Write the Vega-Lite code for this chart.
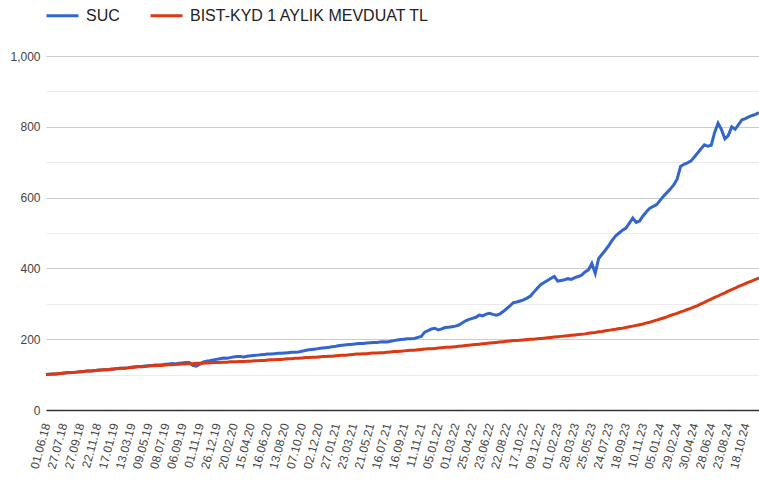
{
 "$schema": "https://vega.github.io/schema/vega-lite/v6.json",
 "width": 713,
 "height": 354,
 "autosize": "none",
 "padding": {"left": 46, "top": 56, "right": 0, "bottom": 71},
 "background": "white",
 "config": {"view": {"stroke": null}, "font": "Liberation Sans"},
 "data": {"values": [
  {"d":"01.06.18","SUC":100,"BIST":100},{"d":"12.06.18","SUC":101,"BIST":101},{"d":"22.06.18","SUC":102,"BIST":102},{"d":"04.07.18","SUC":102,"BIST":102},{"d":"16.07.18","SUC":103,"BIST":103},
  {"d":"27.07.18","SUC":104,"BIST":104},{"d":"08.08.18","SUC":105,"BIST":105},{"d":"17.08.18","SUC":105,"BIST":106},{"d":"05.09.18","SUC":106,"BIST":106},{"d":"17.09.18","SUC":107,"BIST":107},
  {"d":"27.09.18","SUC":108,"BIST":108},{"d":"08.10.18","SUC":109,"BIST":109},{"d":"18.10.18","SUC":110,"BIST":110},{"d":"31.10.18","SUC":110,"BIST":110},{"d":"12.11.18","SUC":111,"BIST":111},
  {"d":"22.11.18","SUC":112,"BIST":112},{"d":"04.12.18","SUC":113,"BIST":113},{"d":"14.12.18","SUC":114,"BIST":114},{"d":"26.12.18","SUC":114,"BIST":114},{"d":"07.01.19","SUC":115,"BIST":115},
  {"d":"17.01.19","SUC":116,"BIST":116},{"d":"29.01.19","SUC":117,"BIST":117},{"d":"08.02.19","SUC":118,"BIST":118},{"d":"20.02.19","SUC":118,"BIST":118},{"d":"01.03.19","SUC":119,"BIST":119},
  {"d":"13.03.19","SUC":121,"BIST":120},{"d":"25.03.19","SUC":122,"BIST":121},{"d":"04.04.19","SUC":123,"BIST":122},{"d":"16.04.19","SUC":123,"BIST":122},{"d":"26.04.19","SUC":124,"BIST":123},
  {"d":"09.05.19","SUC":125,"BIST":124},{"d":"21.05.19","SUC":126,"BIST":125},{"d":"31.05.19","SUC":127,"BIST":125},{"d":"14.06.19","SUC":127,"BIST":126},{"d":"26.06.19","SUC":128,"BIST":126},
  {"d":"08.07.19","SUC":129,"BIST":127},{"d":"18.07.19","SUC":130,"BIST":128},{"d":"30.07.19","SUC":131,"BIST":128},{"d":"09.08.19","SUC":130,"BIST":129},{"d":"26.08.19","SUC":132,"BIST":129},
  {"d":"06.09.19","SUC":133,"BIST":130},{"d":"18.09.19","SUC":134,"BIST":130},{"d":"30.09.19","SUC":134,"BIST":131},{"d":"10.10.19","SUC":126,"BIST":131},{"d":"22.10.19","SUC":124,"BIST":132},
  {"d":"01.11.19","SUC":129,"BIST":132},{"d":"13.11.19","SUC":135,"BIST":132},{"d":"25.11.19","SUC":138,"BIST":133},{"d":"05.12.19","SUC":139,"BIST":133},{"d":"16.12.19","SUC":141,"BIST":134},
  {"d":"26.12.19","SUC":143,"BIST":134},{"d":"07.01.20","SUC":145,"BIST":134},{"d":"17.01.20","SUC":147,"BIST":135},{"d":"29.01.20","SUC":146,"BIST":135},{"d":"10.02.20","SUC":148,"BIST":136},
  {"d":"20.02.20","SUC":150,"BIST":136},{"d":"03.03.20","SUC":151,"BIST":136},{"d":"13.03.20","SUC":151,"BIST":137},{"d":"25.03.20","SUC":150,"BIST":137},{"d":"06.04.20","SUC":152,"BIST":138},
  {"d":"15.04.20","SUC":153,"BIST":138},{"d":"27.04.20","SUC":154,"BIST":139},{"d":"08.05.20","SUC":155,"BIST":139},{"d":"21.05.20","SUC":156,"BIST":140},{"d":"04.06.20","SUC":157,"BIST":140},
  {"d":"16.06.20","SUC":158,"BIST":141},{"d":"26.06.20","SUC":158,"BIST":142},{"d":"08.07.20","SUC":159,"BIST":142},{"d":"20.07.20","SUC":160,"BIST":143},{"d":"03.08.20","SUC":160,"BIST":143},
  {"d":"13.08.20","SUC":161,"BIST":144},{"d":"25.08.20","SUC":162,"BIST":145},{"d":"04.09.20","SUC":163,"BIST":145},{"d":"16.09.20","SUC":163,"BIST":146},{"d":"28.09.20","SUC":164,"BIST":146},
  {"d":"07.10.20","SUC":166,"BIST":147},{"d":"19.10.20","SUC":168,"BIST":148},{"d":"30.10.20","SUC":170,"BIST":148},{"d":"11.11.20","SUC":171,"BIST":149},{"d":"23.11.20","SUC":172,"BIST":149},
  {"d":"02.12.20","SUC":174,"BIST":150},{"d":"14.12.20","SUC":175,"BIST":151},{"d":"24.12.20","SUC":176,"BIST":151},{"d":"05.01.21","SUC":177,"BIST":152},{"d":"15.01.21","SUC":179,"BIST":152},
  {"d":"27.01.21","SUC":180,"BIST":153},{"d":"08.02.21","SUC":182,"BIST":154},{"d":"18.02.21","SUC":183,"BIST":155},{"d":"02.03.21","SUC":184,"BIST":155},{"d":"12.03.21","SUC":185,"BIST":156},
  {"d":"23.03.21","SUC":186,"BIST":157},{"d":"02.04.21","SUC":187,"BIST":158},{"d":"14.04.21","SUC":188,"BIST":158},{"d":"26.04.21","SUC":188,"BIST":159},{"d":"07.05.21","SUC":189,"BIST":159},
  {"d":"21.05.21","SUC":190,"BIST":160},{"d":"02.06.21","SUC":191,"BIST":161},{"d":"14.06.21","SUC":191,"BIST":161},{"d":"24.06.21","SUC":192,"BIST":162},{"d":"06.07.21","SUC":193,"BIST":162},
  {"d":"16.07.21","SUC":192,"BIST":163},{"d":"30.07.21","SUC":194,"BIST":164},{"d":"11.08.21","SUC":196,"BIST":165},{"d":"23.08.21","SUC":198,"BIST":165},{"d":"03.09.21","SUC":199,"BIST":166},
  {"d":"16.09.21","SUC":200,"BIST":167},{"d":"28.09.21","SUC":201,"BIST":168},{"d":"08.10.21","SUC":201,"BIST":169},{"d":"20.10.21","SUC":202,"BIST":169},{"d":"01.11.21","SUC":205,"BIST":170},
  {"d":"11.11.21","SUC":208,"BIST":171},{"d":"23.11.21","SUC":220,"BIST":172},{"d":"03.12.21","SUC":224,"BIST":173},{"d":"15.12.21","SUC":229,"BIST":173},{"d":"24.12.21","SUC":231,"BIST":174},
  {"d":"05.01.22","SUC":226,"BIST":175},{"d":"17.01.22","SUC":229,"BIST":176},{"d":"27.01.22","SUC":233,"BIST":177},{"d":"08.02.22","SUC":234,"BIST":177},{"d":"18.02.22","SUC":235,"BIST":178},
  {"d":"01.03.22","SUC":237,"BIST":179},{"d":"11.03.22","SUC":240,"BIST":180},{"d":"23.03.22","SUC":246,"BIST":181},{"d":"04.04.22","SUC":252,"BIST":182},{"d":"14.04.22","SUC":256,"BIST":183},
  {"d":"25.04.22","SUC":259,"BIST":184},{"d":"06.05.22","SUC":262,"BIST":185},{"d":"18.05.22","SUC":268,"BIST":186},{"d":"31.05.22","SUC":266,"BIST":187},{"d":"13.06.22","SUC":271,"BIST":188},
  {"d":"23.06.22","SUC":273,"BIST":189},{"d":"05.07.22","SUC":270,"BIST":190},{"d":"20.07.22","SUC":268,"BIST":191},{"d":"01.08.22","SUC":271,"BIST":192},{"d":"11.08.22","SUC":278,"BIST":193},
  {"d":"22.08.22","SUC":286,"BIST":194},{"d":"02.09.22","SUC":294,"BIST":195},{"d":"14.09.22","SUC":303,"BIST":196},{"d":"26.09.22","SUC":305,"BIST":196},{"d":"06.10.22","SUC":308,"BIST":197},
  {"d":"17.10.22","SUC":311,"BIST":198},{"d":"27.10.22","SUC":316,"BIST":199},{"d":"08.11.22","SUC":322,"BIST":200},{"d":"18.11.22","SUC":333,"BIST":200},{"d":"30.11.22","SUC":344,"BIST":201},
  {"d":"09.12.22","SUC":354,"BIST":202},{"d":"21.12.22","SUC":360,"BIST":203},{"d":"30.12.22","SUC":366,"BIST":204},{"d":"11.01.23","SUC":372,"BIST":205},{"d":"23.01.23","SUC":377,"BIST":206},
  {"d":"01.02.23","SUC":364,"BIST":207},{"d":"13.02.23","SUC":366,"BIST":208},{"d":"23.02.23","SUC":368,"BIST":209},{"d":"07.03.23","SUC":371,"BIST":210},{"d":"17.03.23","SUC":369,"BIST":211},
  {"d":"28.03.23","SUC":374,"BIST":212},{"d":"07.04.23","SUC":377,"BIST":213},{"d":"19.04.23","SUC":381,"BIST":214},{"d":"03.05.23","SUC":390,"BIST":215},{"d":"15.05.23","SUC":396,"BIST":217},
  {"d":"25.05.23","SUC":414,"BIST":218},{"d":"06.06.23","SUC":386,"BIST":219},{"d":"16.06.23","SUC":428,"BIST":221},{"d":"03.07.23","SUC":440,"BIST":222},{"d":"13.07.23","SUC":452,"BIST":224},
  {"d":"24.07.23","SUC":465,"BIST":225},{"d":"03.08.23","SUC":480,"BIST":227},{"d":"15.08.23","SUC":492,"BIST":228},{"d":"25.08.23","SUC":500,"BIST":230},{"d":"06.09.23","SUC":508,"BIST":231},
  {"d":"18.09.23","SUC":514,"BIST":233},{"d":"28.09.23","SUC":528,"BIST":235},{"d":"10.10.23","SUC":542,"BIST":237},{"d":"20.10.23","SUC":530,"BIST":239},{"d":"01.11.23","SUC":534,"BIST":241},
  {"d":"10.11.23","SUC":548,"BIST":243},{"d":"22.11.23","SUC":560,"BIST":246},{"d":"04.12.23","SUC":570,"BIST":248},{"d":"14.12.23","SUC":575,"BIST":251},{"d":"26.12.23","SUC":580,"BIST":254},
  {"d":"05.01.24","SUC":592,"BIST":257},{"d":"17.01.24","SUC":604,"BIST":260},{"d":"29.01.24","SUC":614,"BIST":263},{"d":"08.02.24","SUC":624,"BIST":267},{"d":"20.02.24","SUC":636,"BIST":270},
  {"d":"29.02.24","SUC":652,"BIST":273},{"d":"12.03.24","SUC":688,"BIST":277},{"d":"22.03.24","SUC":694,"BIST":280},{"d":"05.04.24","SUC":698,"BIST":284},{"d":"19.04.24","SUC":703,"BIST":287},
  {"d":"30.04.24","SUC":714,"BIST":291},{"d":"10.05.24","SUC":726,"BIST":295},{"d":"23.05.24","SUC":738,"BIST":300},{"d":"05.06.24","SUC":749,"BIST":304},{"d":"17.06.24","SUC":745,"BIST":309},
  {"d":"28.06.24","SUC":748,"BIST":313},{"d":"10.07.24","SUC":784,"BIST":318},{"d":"22.07.24","SUC":810,"BIST":322},{"d":"01.08.24","SUC":792,"BIST":327},{"d":"13.08.24","SUC":766,"BIST":331},
  {"d":"23.08.24","SUC":775,"BIST":336},{"d":"04.09.24","SUC":800,"BIST":340},{"d":"16.09.24","SUC":793,"BIST":344},{"d":"26.09.24","SUC":806,"BIST":349},{"d":"08.10.24","SUC":820,"BIST":353},
  {"d":"18.10.24","SUC":823,"BIST":357},{"d":"30.10.24","SUC":828,"BIST":361},{"d":"11.11.24","SUC":832,"BIST":365},{"d":"21.11.24","SUC":835,"BIST":369},{"d":"03.12.24","SUC":840,"BIST":373}
 ]},
 "transform": [{"fold": ["SUC", "BIST"], "as": ["series", "value"]}],
 "encoding": {
  "x": {"field": "d", "type": "ordinal", "sort": null,
   "scale": {"type": "point", "padding": 0},
   "axis": {
    "values": ["01.06.18","27.07.18","27.09.18","22.11.18","17.01.19","13.03.19","09.05.19","08.07.19","06.09.19","01.11.19","26.12.19","20.02.20","15.04.20","16.06.20","13.08.20","07.10.20","02.12.20","27.01.21","23.03.21","21.05.21","16.07.21","16.09.21","11.11.21","05.01.22","01.03.22","25.04.22","23.06.22","22.08.22","17.10.22","09.12.22","01.02.23","28.03.23","25.05.23","24.07.23","18.09.23","10.11.23","05.01.24","29.02.24","30.04.24","28.06.24","23.08.24","18.10.24"],
    "labelAngle": -75, "labelAlign": "right", "labelBaseline": "middle",
    "labelFontSize": 12, "labelColor": "#444444", "labelPadding": 13, "labelOverlap": false,
    "ticks": false, "domain": false, "grid": false, "title": null}},
  "y": {"field": "value", "type": "quantitative",
   "scale": {"domain": [0, 1000], "nice": false},
   "axis": {
    "values": [0,100,200,300,400,500,600,700,800,900,1000],
    "labelExpr": "datum.value % 200 === 0 ? format(datum.value, ',') : ''",
    "ticks": false, "domain": false, "title": null,
    "labelFontSize": 12, "labelColor": "#444444", "labelPadding": 6,
    "gridColor": {"condition": [{"test": "datum.value === 0", "value": "#333333"}, {"test": "datum.value % 200 === 0", "value": "#cccccc"}], "value": "#ebebeb"},
    "gridWidth": {"condition": {"test": "datum.value === 0", "value": 1.5}, "value": 1}}},
  "color": {"field": "series", "type": "nominal",
   "scale": {"domain": ["SUC", "BIST"], "range": ["#3366cc", "#dc3912"]},
   "legend": {"title": null, "orient": "none", "legendX": -1, "legendY": -58, "direction": "horizontal",
    "symbolType": "stroke", "symbolSize": 1024, "symbolStrokeWidth": 3,
    "labelFontSize": 16, "labelColor": "#222222", "labelOffset": 6, "columnPadding": 24, "padding": 0, "labelLimit": 0,
    "labelExpr": "datum.label === 'BIST' ? 'BIST-KYD 1 AYLIK MEVDUAT TL' : datum.label"}}
 },
 "layer": [
  {"transform": [{"filter": "datum.series === 'SUC'"}], "mark": {"type": "line", "strokeWidth": 3}},
  {"transform": [{"filter": "datum.series === 'BIST'"}], "mark": {"type": "line", "strokeWidth": 3}}
 ]
}
